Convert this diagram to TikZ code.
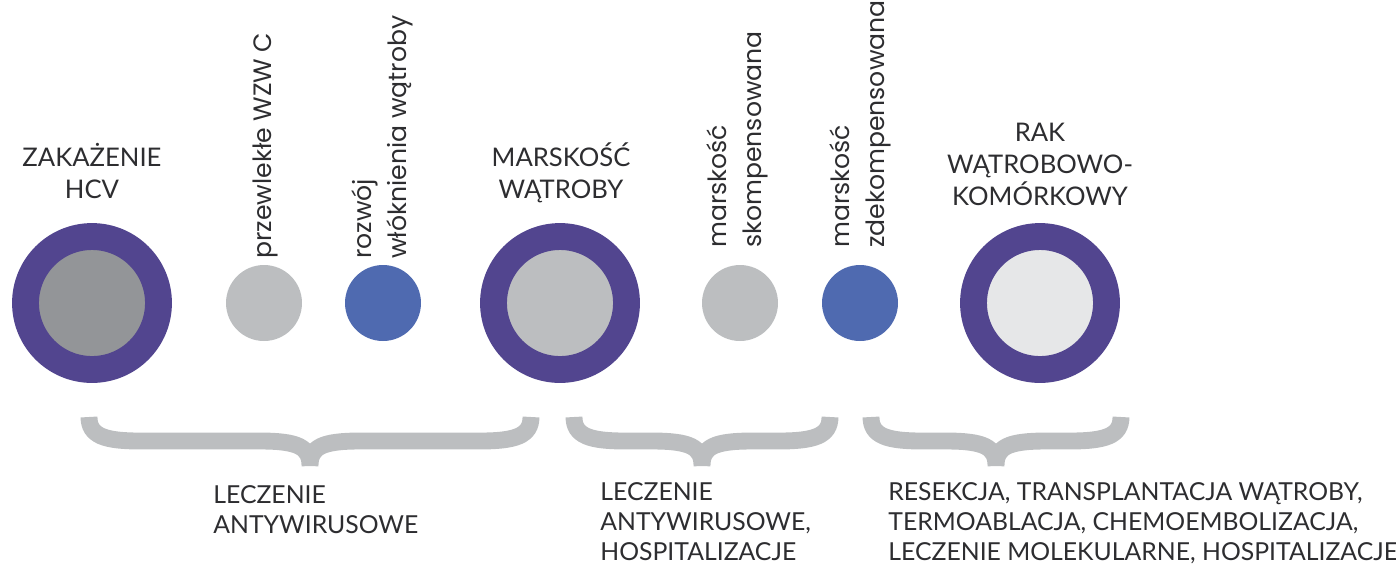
\documentclass[tikz,border=0pt]{standalone}
\usepackage{fontspec}
\setmainfont{Lato}
\newfontfamily\rotfont{Poppins}
\usepackage{xcolor}
\definecolor{ringviolet}{RGB}{82,69,143}
\definecolor{darkgrey}{RGB}{147,149,152}
\definecolor{midgrey}{RGB}{188,190,192}
\definecolor{palegrey}{RGB}{230,231,232}
\definecolor{stageblue}{RGB}{79,106,176}
\definecolor{txt}{RGB}{45,45,48}

\begin{document}
\begin{tikzpicture}[x=0.02cm,y=-0.02cm,
    big/.style={draw=ringviolet,line width=15.3pt,circle,inner sep=0pt,minimum size=2.66cm},
    small/.style={circle,inner sep=0pt,minimum size=1.52cm},
    caps/.style={text=txt,align=center,inner sep=0pt,anchor=base,font=\fontsize{14.6}{18}\selectfont},
    cure/.style={text=txt,align=left,inner sep=0pt,anchor=base west,font=\fontsize{14.1}{16.8}\selectfont},
    vert/.style={text=txt,align=left,inner sep=0pt,rotate=90,anchor=west,font=\rotfont\fontsize{14.3}{20}\selectfont},
    curly/.style={draw=midgrey,line width=9.6pt}]
  \useasboundingbox (0,0) rectangle (1396,566);

  % stages
  \node[big,fill=darkgrey] (zakazenie) at (92,303) {};
  \node[small,fill=midgrey] (wzw) at (264,303) {};
  \node[small,fill=stageblue] (wloknienie) at (383,303) {};
  \node[big,fill=midgrey] (marskosc) at (560,303) {};
  \node[small,fill=midgrey] (skomp) at (740,303) {};
  \node[small,fill=stageblue] (zdekomp) at (860,303) {};
  \node[big,fill=palegrey] (rak) at (1040,303) {};

  % labels above (base = last line)
  \node[caps] (zakazenielbl) at (92,198) {ZAKAŻENIE\\HCV};
  \node[caps] (marskosclbl) at (561,198) {MARSKOŚĆ\\WĄTROBY};
  \node[caps] (raklbl) at (1040,205) {RAK\\WĄTROBOWO-\\KOMÓRKOWY};
  \node[vert] (wzwlbl) at (265,259) {przewlekłe WZW C};
  \node[vert] (wloknienielbl) at (382,259) {rozwój\\włóknienia wątroby};
  \node[vert] (skomplbl) at (737,248) {marskość\\skompensowana};
  \node[vert] (zdekomplbl) at (860,248) {marskość\\zdekompensowana};

  % braces
  \draw[curly] (89,417) .. controls (89,436) and (105,441) .. (140,441) -- (260,441)
    .. controls (298,441) and (310,447) .. (310,466)
    (531,417) .. controls (531,436) and (515,441) .. (480,441) -- (360,441)
    .. controls (322,441) and (310,447) .. (310,466);
  \draw[curly] (574,417) .. controls (574,436) and (590,441) .. (625,441) -- (652,441)
    .. controls (690,441) and (702,447) .. (702,466)
    (830,417) .. controls (830,436) and (814,441) .. (779,441) -- (752,441)
    .. controls (714,441) and (702,447) .. (702,466);
  \draw[curly] (871,417) .. controls (871,436) and (887,441) .. (922,441) -- (946,441)
    .. controls (984,441) and (996,447) .. (996,466)
    (1121,417) .. controls (1121,436) and (1105,441) .. (1070,441) -- (1046,441)
    .. controls (1008,441) and (996,447) .. (996,466);

  % treatment (base = last line)
  \node[cure] (leczenie1) at (213,533) {LECZENIE\\ANTYWIRUSOWE};
  \node[cure] (leczenie2) at (600,560) {LECZENIE\\ANTYWIRUSOWE,\\HOSPITALIZACJE};
  \node[cure] (leczenie3) at (888,560) {RESEKCJA, TRANSPLANTACJA WĄTROBY,\\TERMOABLACJA, CHEMOEMBOLIZACJA,\\LECZENIE MOLEKULARNE, HOSPITALIZACJE};
\end{tikzpicture}
\end{document}
